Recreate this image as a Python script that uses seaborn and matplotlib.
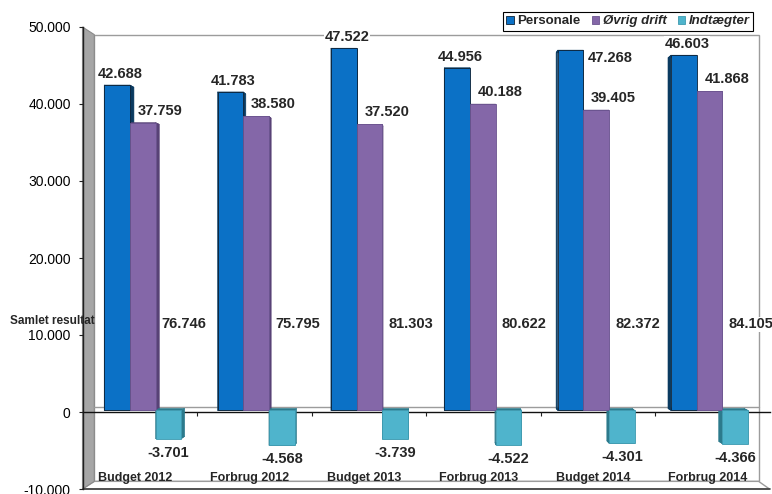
import numpy as np
import pandas as pd
import matplotlib
matplotlib.use("Agg")
import matplotlib.pyplot as plt
import seaborn as sns
from matplotlib.patches import Polygon, Patch
from matplotlib.lines import Line2D
from matplotlib.ticker import FuncFormatter, FixedLocator
from matplotlib.transforms import Affine2D

# ---- data -------------------------------------------------------------
categories = ["Budget 2012", "Forbrug 2012", "Budget 2013",
              "Forbrug 2013", "Budget 2014", "Forbrug 2014"]
series_names = ["Personale", "Øvrig drift", "Indtægter"]
personale = [42688, 41783, 47522, 44956, 47268, 46603]
ovrig_drift = [37759, 38580, 37520, 40188, 39405, 41868]
indtaegter = [-3701, -4568, -3739, -4522, -4301, -4366]
samlet = [p + o + i for p, o, i in zip(personale, ovrig_drift, indtaegter)]
y_ticks = [-10000, 0, 10000, 20000, 30000, 40000, 50000]

# ---- style ------------------------------------------------------------
front_colors = ["#0b71c6", "#8467a8", "#4fb4cc"]
side_colors = ["#0a3a60", "#584276", "#2c7a8c"]
edge_colors = ["#0d2236", "#6b5490", "#3d9ab0"]
wall_grey = "#a6a6a6"
line_grey = "#9c9c9c"

sns.set_theme(style="white")
plt.rcParams["font.family"] = ["Liberation Sans", "DejaVu Sans"]


def dk(v):
    """Danish thousands separator."""
    return f"{v:,.0f}".replace(",", ".")


W, H, DPI = 772, 494, 100
fig = plt.figure(figsize=(W / DPI, H / DPI), dpi=DPI)
ax = fig.add_axes([82.5 / W, 5 / H, 687 / W, 462 / H])
ax.patch.set_visible(False)
ax.set_axisbelow(False)

df = pd.DataFrame({
    "Kategori": categories * 3,
    "Post": np.repeat(series_names, len(categories)),
    "Beløb": personale + ovrig_drift + indtaegter,
})
sns.barplot(data=df, x="Kategori", y="Beløb", hue="Post",
            order=categories, hue_order=series_names,
            palette=front_colors, saturation=1, width=0.68,
            errorbar=None, legend=False, linewidth=0, zorder=3, ax=ax)

ax.set_xlim(-0.5, len(categories) - 0.5)
ax.set_ylim(y_ticks[0], y_ticks[-1])

# ---- simple perspective ------------------------------------------------
vanish = np.array([440.0, H - 258.0])   # display-space vanishing point
WALL_DEPTH = 0.967    # back wall / floor back edge
BAR_FRONT = 0.990     # front face of the bars sits a little behind the axis
BAR_DEPTH = 0.987     # thickness of the bars
to_data = ax.transData.inverted()


def recede(pts, s):
    pts = np.atleast_2d(np.asarray(pts, float))
    return vanish + s * (pts - vanish)


def depth_transform(s):
    return Affine2D().translate(-vanish[0], -vanish[1]).scale(s) \
                     .translate(vanish[0], vanish[1])


bar_trans = ax.transData + depth_transform(BAR_FRONT)


def add_poly(disp_pts, **kw):
    poly = Polygon(to_data.transform(disp_pts), closed=True,
                   transform=ax.transData, clip_on=False, **kw)
    ax.add_patch(poly)
    return poly


fl_b, fr_b, fr_t, fl_t = ax.transAxes.transform([(0, 0), (1, 0), (1, 1), (0, 1)])
bl_b, br_b, br_t, bl_t = recede([fl_b, fr_b, fr_t, fl_t], WALL_DEPTH)

# back wall
add_poly([bl_b, br_b, br_t, bl_t], facecolor="white", edgecolor=line_grey,
         linewidth=1.0, zorder=0.5)
# floor
add_poly([fl_b, bl_b, br_b, fr_b], facecolor="white", edgecolor=line_grey,
         linewidth=1.0, zorder=0.6)
# side wall
add_poly([fl_t, bl_t, bl_b, fl_b], facecolor=wall_grey, edgecolor="#8a8a8a",
         linewidth=0.8, zorder=0.7)
# front edge of the floor
ax.add_line(Line2D(*zip(*to_data.transform([fl_b, fr_b])), color="#404040",
                   linewidth=1.2, clip_on=False, zorder=0.8))
# zero plane at the back
z_front = ax.transData.transform([(-0.5, 0), (len(categories) - 0.5, 0)])
z_back = recede(z_front, WALL_DEPTH)
ax.add_line(Line2D(*zip(*to_data.transform(z_back)), color=line_grey,
                   linewidth=1.0, clip_on=False, zorder=0.9))

# ---- bars: push front faces back and add depth faces ----------------------
for k, cont in enumerate(ax.containers):
    for bar in cont:
        bar.set_transform(bar_trans)
        bar.set_edgecolor(edge_colors[k])
        bar.set_linewidth(0.6)
        x0, y0 = bar.get_x(), bar.get_y()
        x1, y1 = x0 + bar.get_width(), y0 + bar.get_height()
        c = bar_trans.transform([(x0, y0), (x1, y0), (x1, y1), (x0, y1)])
        b = recede(c, BAR_DEPTH)
        for i in range(4):
            j = (i + 1) % 4
            add_poly([c[i], c[j], b[j], b[i]], facecolor=side_colors[k],
                     edgecolor=side_colors[k], linewidth=0.4, zorder=2.9)

# ---- axes -------------------------------------------------------------
for s in ("top", "right"):
    ax.spines[s].set_visible(False)
ax.spines["left"].set_color("#202020")
ax.spines["left"].set_linewidth(1.0)
ax.spines["bottom"].set_position(("data", 0))
ax.spines["bottom"].set_color("#111111")
ax.spines["bottom"].set_linewidth(1.0)
ax.spines["bottom"].set_zorder(2.5)

ax.yaxis.set_major_locator(FixedLocator(y_ticks))
ax.yaxis.set_major_formatter(FuncFormatter(lambda v, _: dk(v)))
ax.tick_params(axis="y", direction="out", length=3, width=0.8, pad=5.5,
               labelsize=10, colors="#202020", labelcolor="black", left=True)
ax.set_xticks(np.arange(len(categories) - 1) + 0.5)
ax.set_xticklabels([""] * (len(categories) - 1))
ax.tick_params(axis="x", direction="out", length=3, width=0.8,
               colors="#202020", bottom=True)
ax.set_xlabel("")

ax.set_ylabel("Samlet resultat", rotation=0, fontsize=8.5, fontweight="bold",
              ha="left", va="center")
ax.yaxis.set_label_coords((10 - 82.5) / 687, (489 - 321) / 462)

# category names lying on the floor
for i, name in enumerate(categories):
    ax.annotate(name, xy=(i, y_ticks[0]), xytext=(-5, 11),
                textcoords="offset pixels", ha="center", va="center",
                fontsize=9, fontweight="bold", zorder=4)

# ---- value labels -------------------------------------------------------
label_kw = dict(xycoords=bar_trans, textcoords="offset pixels",
                fontsize=10.5, fontweight="bold", zorder=5,
                annotation_clip=False,
                bbox=dict(boxstyle="square,pad=0.05", facecolor="white",
                          edgecolor="none"))
personale_label_side = ["top", "top", "top", "top", "right", "top"]

pers_bars, drift_bars, ind_bars = ax.containers
for i, bar in enumerate(pers_bars):
    top = personale[i]
    if personale_label_side[i] == "right":
        ax.annotate(dk(top), xy=(bar.get_x() + bar.get_width(), top),
                    xytext=(4, -12), ha="left", va="baseline", **label_kw)
    else:
        ax.annotate(dk(top), xy=(bar.get_x() + bar.get_width() / 2, top),
                    xytext=(3, 7), ha="center", va="baseline", **label_kw)

for i, bar in enumerate(drift_bars):
    ax.annotate(dk(ovrig_drift[i]),
                xy=(bar.get_x() + bar.get_width() / 2, ovrig_drift[i]),
                xytext=(-5, 8), ha="left", va="baseline", **label_kw)
    ax.annotate(dk(samlet[i]), xy=(bar.get_x() + bar.get_width(), 0),
                xytext=(6, 86), ha="left", va="center", **label_kw)

for i, bar in enumerate(ind_bars):
    ax.annotate(dk(indtaegter[i]),
                xy=(bar.get_x() + bar.get_width() / 2, indtaegter[i]),
                xytext=(0, -14), ha="center", va="center", **label_kw)

# ---- legend -------------------------------------------------------------
handles = [Patch(facecolor=front_colors[k], edgecolor=edge_colors[k],
                 linewidth=0.6, label=series_names[k]) for k in range(3)]
leg = ax.legend(handles=handles, loc="upper right", ncol=3,
                bbox_to_anchor=(753 / W, 1 - 12 / H),
                bbox_transform=fig.transFigure, frameon=True, fancybox=False,
                edgecolor="black", framealpha=1, fontsize=9.5,
                handlelength=0.55, handleheight=0.55, handletextpad=0.25,
                columnspacing=0.9, borderpad=0.25, borderaxespad=0)
leg.get_frame().set_linewidth(0.8)
for t_i, txt in enumerate(leg.get_texts()):
    txt.set_fontweight("bold")
    if t_i > 0:
        txt.set_fontstyle("italic")
leg.set_zorder(6)

fig.savefig("out.png", dpi=DPI, facecolor="white")
